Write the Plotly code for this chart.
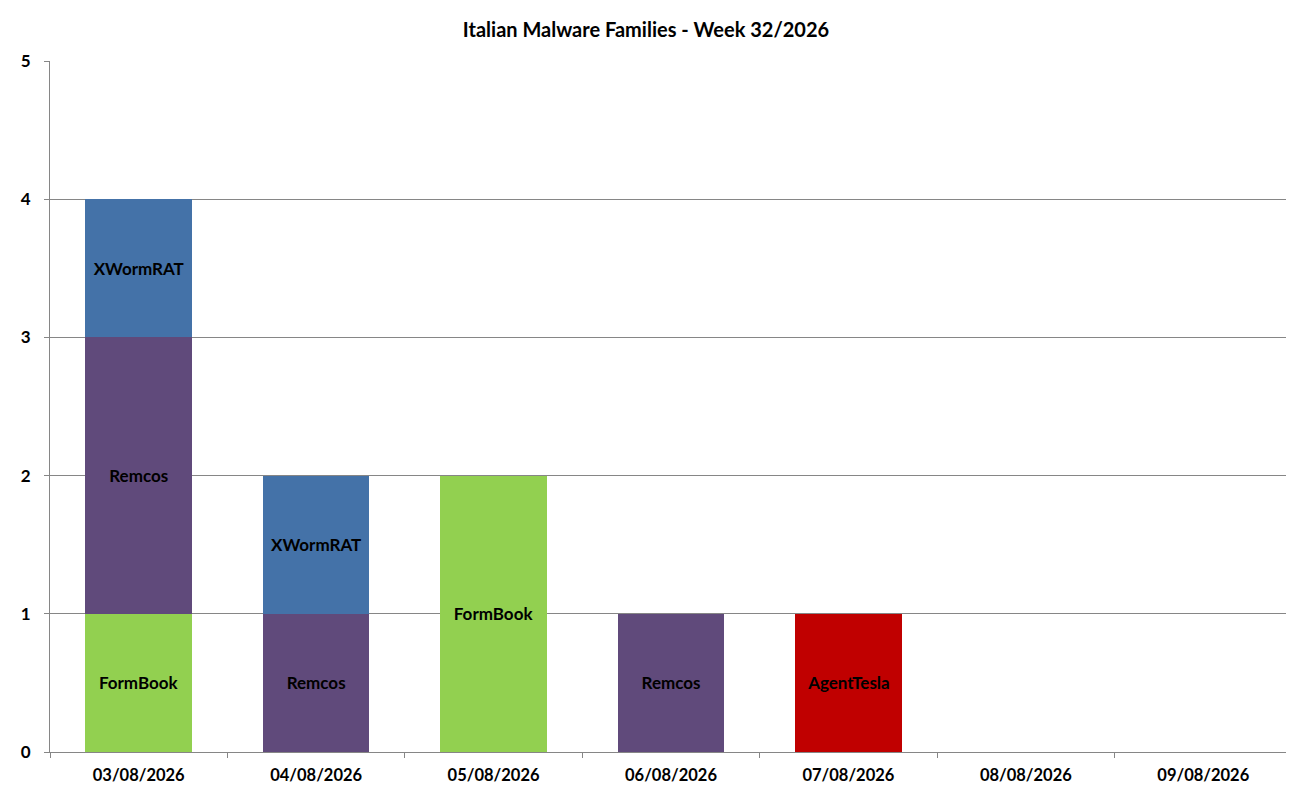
import plotly.graph_objects as go

dates = ["03/08/2026", "04/08/2026", "05/08/2026", "06/08/2026",
         "07/08/2026", "08/08/2026", "09/08/2026"]
formbook = [1, None, 2, None, None, None, None]
remcos = [2, 1, None, 1, None, None, None]
xwormrat = [1, 1, None, None, None, None, None]
agenttesla = [None, None, None, None, 1, None, None]

series = [
    ("FormBook", formbook, "#92D050"),
    ("Remcos", remcos, "#604A7B"),
    ("XWormRAT", xwormrat, "#4472A8"),
    ("AgentTesla", agenttesla, "#C00000"),
]

FONT = "Lato, 'Open Sans', sans-serif"

fig = go.Figure()
for name, vals, color in series:
    fig.add_trace(go.Bar(
        name=name, x=dates, y=vals,
        marker=dict(color=color, line=dict(width=0)),
        text=[name if v else None for v in vals],
        textposition="inside", insidetextanchor="middle", textangle=0,
        textfont=dict(family=FONT, size=17, color="black", weight="bold"),
        width=0.6,
    ))

fig.update_layout(
    barmode="stack",
    width=1294, height=793,
    paper_bgcolor="white", plot_bgcolor="white",
    showlegend=False,
    margin=dict(l=42, r=10, t=53, b=49),
    title=dict(text="Italian Malware Families - Week 32/2026",
               x=(646 - 8) / 1294, xref="container", xanchor="center",
               y=1 - 22 / 793, yref="container", yanchor="middle",
               font=dict(family=FONT, size=20, color="black", weight="bold")),
)
fig.update_xaxes(
    type="category", categoryorder="array", categoryarray=dates,
    showline=True, linecolor="#868686", linewidth=1,
    ticks="outside", tickson="boundaries", ticklen=5, tickcolor="#868686",
    showgrid=False,
    tickfont=dict(family=FONT, size=16.5, color="black", weight="bold"),
    ticklabelstandoff=8,
)
fig.update_yaxes(
    range=[0, 5], dtick=1,
    showline=True, linecolor="#868686", linewidth=1,
    ticks="outside", ticklen=5, tickcolor="#868686",
    showgrid=True, gridcolor="#868686", gridwidth=1,
    zeroline=False,
    tickfont=dict(family=FONT, size=17, color="black", weight="bold"),
    ticklabelstandoff=10,
)

fig.write_html("out.html")
